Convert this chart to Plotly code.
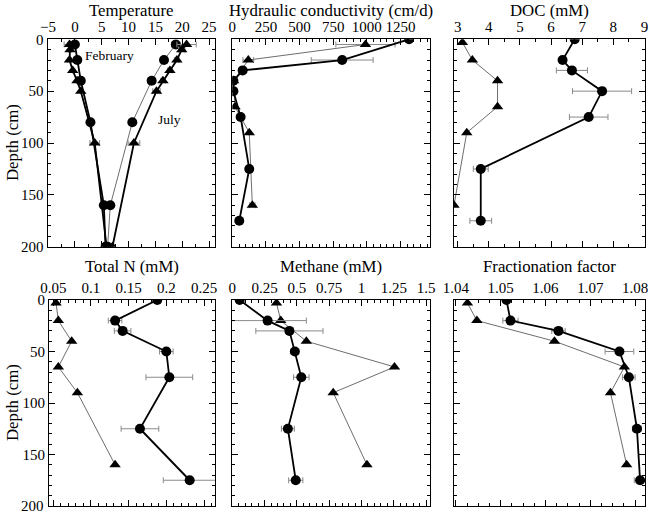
import plotly.graph_objects as go

# ---------------- data ----------------
# Temperature (deg C)
temp_feb_c_depth = [5, 20, 40, 80, 160, 200]
temp_feb_c = [0.0, 0.45, 1.1, 2.9, 5.4, 5.7]
temp_feb_c_err = [0.4, 0.3, 0.4, 0.3, None, None]
temp_feb_t_depth = [5, 10, 20, 30, 40, 50, 100, 200]
temp_feb_t = [-1.0, -0.9, -1.0, -0.4, 0.4, 1.1, 3.7, 5.9]
temp_feb_t_err = [1.0, 0.3, 0.3, None, None, None, 0.9, None]
temp_jul_c_depth = [5, 20, 40, 80, 160, 200]
temp_jul_c = [18.8, 16.6, 14.3, 10.7, 6.6, 6.1]
temp_jul_c_err = [0.8, 0.5, 0.7, 0.6, 0.3, None]
temp_jul_t_depth = [5, 10, 20, 30, 40, 50, 100, 200]
temp_jul_t = [20.8, 19.9, 19.0, 17.7, 16.4, 15.2, 11.0, 7.0]
temp_jul_t_err = [1.8, 0.6, 0.4, 0.4, 0.4, 0.7, 1.1, None]

# Hydraulic conductivity (cm/d)
k_c_depth = [0, 20, 30, 40, 50, 75, 125, 175]
k_c = [1314, 817, 77, 8, 8, 62, 126, 52]
k_c_err = [None, 230, None, None, None, None, None, None]
k_t_depth = [5, 20, 40, 65, 90, 160]
k_t = [990, 119, 10, 20, 126, 149]
k_t_err = [220, 40, None, None, None, 20]

# DOC (mM)
doc_c_depth = [0, 20, 30, 50, 75, 125, 175]
doc_c = [6.76, 6.37, 6.67, 7.64, 7.21, 3.74, 3.74]
doc_c_err = [None, None, 0.5, 0.95, 0.62, 0.24, 0.35]
doc_t_depth = [3, 20, 40, 65, 90, 160]
doc_t = [3.15, 3.47, 4.28, 4.28, 3.29, 2.88]

# Total N (mM)
tn_c_depth = [0, 20, 30, 50, 75, 125, 175]
tn_c = [0.188, 0.132, 0.142, 0.200, 0.204, 0.165, 0.231]
tn_c_err = [None, 0.009, 0.011, 0.009, 0.031, 0.025, 0.035]
tn_t_depth = [3, 20, 40, 65, 90, 160]
tn_t = [0.0536, 0.0567, 0.0744, 0.0567, 0.082, 0.132]

# Methane (mM)
ch4_c_depth = [0, 20, 30, 50, 75, 125, 175]
ch4_c = [0.057, 0.273, 0.442, 0.484, 0.534, 0.43, 0.491]
ch4_c_err = [None, 0.3, 0.26, 0.03, 0.06, 0.05, 0.055]
ch4_t_depth = [3, 20, 40, 65, 90, 160]
ch4_t = [0.342, 0.375, 0.573, 1.255, 0.781, 1.042]

# Fractionation factor
ff_c_depth = [0, 20, 30, 50, 75, 125, 175]
ff_c = [1.0513, 1.0522, 1.0629, 1.0765, 1.0786, 1.0804, 1.0811]
ff_c_err = [None, 0.0017, 0.0015, 0.0032, 0.0014, 0.001, 0.0013]
ff_t_depth = [3, 20, 40, 65, 90, 160]
ff_t = [1.0426, 1.0447, 1.0620, 1.0776, 1.0745, 1.0781]

titles = ["Temperature", "Hydraulic conductivity (cm/d)", "DOC (mM)",
          "Total N (mM)", "Methane (mM)", "Fractionation factor"]

# ---------------- figure ----------------
W, H = 650, 512
FONT = "Liberation Serif, Times New Roman, serif"
fig = go.Figure()

ERRCOL = "#8a8a8a"
GRAYLINE = "#6e6e6e"


def add_series(ax, x, y, err, sym, thick, name):
    line = dict(color="black", width=1.8) if thick else dict(color=GRAYLINE, width=1)
    tr = dict(x=x, y=y, mode="lines+markers", name=name,
              line=line,
              marker=dict(symbol=sym, size=10, color="black"),
              xaxis="x" + ("" if ax == 1 else str(ax)),
              yaxis="y" + ("" if ax == 1 else str(ax)),
              showlegend=False, hoverinfo="skip")
    if err is not None:
        tr["error_x"] = dict(type="data", array=err, color=ERRCOL, thickness=1, width=3)
    fig.add_trace(go.Scatter(**tr))


# Temperature
add_series(1, temp_feb_t, temp_feb_t_depth, temp_feb_t_err, "triangle-up", True, "Feb tri")
add_series(1, temp_feb_c, temp_feb_c_depth, temp_feb_c_err, "circle", True, "Feb circ")
add_series(1, temp_jul_c, temp_jul_c_depth, temp_jul_c_err, "circle", False, "Jul circ")
add_series(1, temp_jul_t, temp_jul_t_depth, temp_jul_t_err, "triangle-up", True, "Jul tri")
# Hydraulic
add_series(2, k_t, k_t_depth, k_t_err, "triangle-up", False, "K tri")
add_series(2, k_c, k_c_depth, k_c_err, "circle", True, "K circ")
# DOC
add_series(3, doc_t, doc_t_depth, None, "triangle-up", False, "DOC tri")
add_series(3, doc_c, doc_c_depth, doc_c_err, "circle", True, "DOC circ")
# Total N
add_series(4, tn_t, tn_t_depth, None, "triangle-up", False, "TN tri")
add_series(4, tn_c, tn_c_depth, tn_c_err, "circle", True, "TN circ")
# Methane
add_series(5, ch4_t, ch4_t_depth, None, "triangle-up", False, "CH4 tri")
add_series(5, ch4_c, ch4_c_depth, ch4_c_err, "circle", True, "CH4 circ")
# Fractionation
add_series(6, ff_t, ff_t_depth, None, "triangle-up", False, "FF tri")
add_series(6, ff_c, ff_c_depth, ff_c_err, "circle", True, "FF circ")

# panel geometry in pixels: (x0, x1, y0, y1) (y from top)
panels = [
    (47.5, 215, 39.3, 246.7),
    (232.3, 430, 39.3, 246.7),
    (454, 645, 39.3, 246.7),
    (49, 215, 300, 506),
    (232.3, 430, 300, 506),
    (454, 645, 300, 506),
]
xranges = [[-5.1, 26.1], [0, 1470], [2.88, 9.02], [0.0443, 0.2646], [0, 1.53], [1.0396, 1.0822]]
xdticks = [5, 250, 1, 0.05, 0.25, 0.01]
xminor = [2.5, 50, 0.5, 0.01, 0.05, 0.0025]
xtick0 = [0, 0, 3, 0.05, 0, 1.04]

layout = dict(width=W, height=H, margin=dict(l=0, r=0, t=0, b=0, autoexpand=False),
              paper_bgcolor="white", plot_bgcolor="white",
              font=dict(family=FONT, size=15, color="black"))

annotations = []
for i, (x0, x1, y0, y1) in enumerate(panels):
    k = "" if i == 0 else str(i + 1)
    layout["xaxis" + k] = dict(
        domain=[x0 / W, x1 / W], range=xranges[i], side="top",
        anchor="y" + k, tick0=xtick0[i], dtick=xdticks[i], automargin=False,
        ticks="inside", ticklen=6, tickcolor="black", mirror="allticks",
        showline=True, linecolor="black", linewidth=1, showgrid=False, zeroline=False,
        minor=dict(dtick=xminor[i], tick0=xtick0[i], ticks="inside", ticklen=3, tickcolor="black", showgrid=False),
        tickfont=dict(family=FONT, size=15, color="black"), ticklabelstandoff=0,
    )
    layout["yaxis" + k] = dict(
        domain=[1 - y1 / H, 1 - y0 / H], range=[200, 0], automargin=False,
        anchor="x" + k, tick0=0, dtick=50,
        ticks="inside", ticklen=6, tickcolor="black", mirror="allticks",
        showline=True, linecolor="black", linewidth=1, showgrid=False, zeroline=False,
        minor=dict(dtick=10, ticks="inside", ticklen=3, tickcolor="black", showgrid=False),
        showticklabels=(i in (0, 3)),
        tickfont=dict(family=FONT, size=15, color="black"),
    )
    annotations.append(dict(text=titles[i], xref="paper", yref="paper",
                            x=(x0 + x1) / 2 / W, y=1 - (10 if i < 3 else 266) / H,
                            showarrow=False, xanchor="center", yanchor="middle",
                            font=dict(family=FONT, size=16.8, color="black")))

for yc in (143, 403):
    annotations.append(dict(text="Depth (cm)", xref="paper", yref="paper",
                            x=12 / W, y=1 - yc / H, textangle=-90, showarrow=False,
                            xanchor="center", yanchor="middle",
                            font=dict(family=FONT, size=16.8, color="black")))

# bottom tick label of the lower-left depth axis (plotly drops it at the paper edge)
annotations.append(dict(text="200", xref="paper", yref="y4", x=(49 - 3) / W, y=200,
                        showarrow=False, xanchor="right", yanchor="middle",
                        font=dict(family=FONT, size=15, color="black")))

annotations.append(dict(text="February", xref="x", yref="y", x=1.5, y=16,
                        showarrow=False, xanchor="left", yanchor="middle",
                        font=dict(family=FONT, size=13.5, color="black")))
annotations.append(dict(text="July", xref="x", yref="y", x=15.2, y=77,
                        showarrow=False, xanchor="left", yanchor="middle",
                        font=dict(family=FONT, size=13.5, color="black")))

layout["annotations"] = annotations
fig.update_layout(**layout)
fig.write_html("out.html", config={"displayModeBar": False, "staticPlot": True},
               post_script="document.body.style.margin='0';document.body.style.padding='0';document.body.style.overflow='hidden';")
